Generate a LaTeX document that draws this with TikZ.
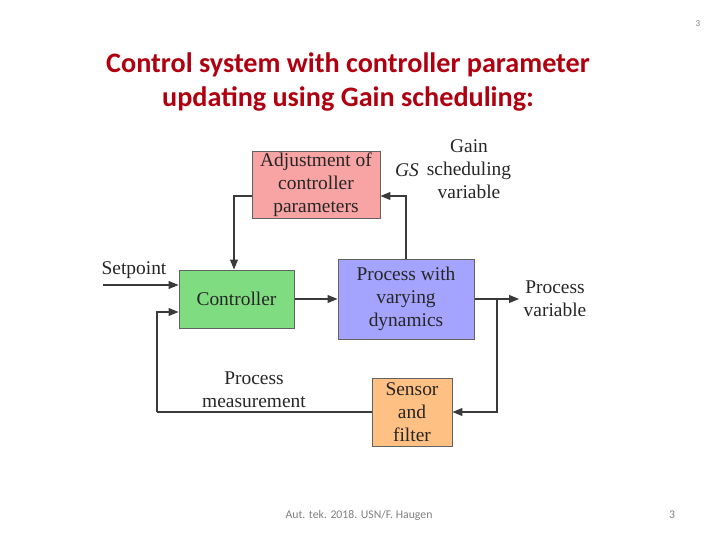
\documentclass[tikz,border=0pt]{standalone}
\usepackage{fontspec}
\setmainfont{Liberation Serif}
\newfontfamily\calibri{Carlito}
\usetikzlibrary{arrows.meta}
\definecolor{titlered}{HTML}{B00010}
\definecolor{adjfill}{HTML}{F8A4A4}
\definecolor{ctrlfill}{HTML}{80DC80}
\definecolor{procfill}{HTML}{A4A4FF}
\definecolor{sensfill}{HTML}{FFC084}
\definecolor{linegray}{HTML}{3A3A3A}
\definecolor{footgray}{HTML}{7F7F7F}
\tikzset{
  blk/.style={draw=linegray!80, line width=1pt, align=center, inner sep=0pt,
    font=\fontsize{19.5}{23}\selectfont, text=black!85},
  conn/.style={draw=linegray, line width=1.1pt, -{Triangle[length=10pt,width=8pt]}},
  wire/.style={draw=linegray, line width=1.1pt},
  lbl/.style={align=center, font=\fontsize{19.5}{23}\selectfont, text=black!85, inner sep=0pt}
}
\begin{document}
\begin{tikzpicture}[x=1bp,y=-1bp]
\useasboundingbox (0,0) rectangle (720,540);
% title
\node[font=\calibri\bfseries\fontsize{28.3}{34}\selectfont, text=titlered, align=center] (title) at (348,82)
  {Control system with controller parameter\\updating using Gain scheduling:};
\node[font=\calibri\fontsize{9}{10}\selectfont, text=footgray] (pg) at (698,24) {3};
\node[font=\calibri\fontsize{11.8}{14}\selectfont, text=footgray] (foot) at (359,515) {Aut. tek. 2018. USN/F. Haugen};
\node[font=\calibri\fontsize{11.8}{14}\selectfont, text=footgray] (pgb) at (672,515) {3};
% blocks
\node[blk, fill=adjfill, minimum width=128bp, minimum height=66bp] (adj) at (316,185)
  {Adjustment of\\controller\\parameters};
\node[blk, fill=ctrlfill, minimum width=115bp, minimum height=58bp] (ctrl) at (236.5,299) {Controller};
\node[blk, fill=procfill, minimum width=136bp, minimum height=80bp] (proc) at (406,299)
  {Process with\\varying\\dynamics};
\node[blk, fill=sensfill, minimum width=80bp, minimum height=68bp] (sens) at (412,412)
  {Sensor\\and\\filter};
% labels
\node[lbl] (sp) at (134,270) {Setpoint};
\node[lbl] (pv) at (555,299) {Process\\variable};
\node[lbl] (pm) at (254,390) {Process\\measurement};
\node[lbl] (gsv) at (469,169) {Gain\\scheduling\\variable};
\node[lbl, font=\itshape\fontsize{19.5}{23}\selectfont] (gs) at (407,170) {GS};
% coordinates
\coordinate (spin) at (103,285);
\coordinate (pvout) at (519,299);
\coordinate (br) at (497,299);
\coordinate (fbl) at (157,412);
% connectors
\draw[conn] (spin) -- (spin -| ctrl.west);
\draw[conn] (ctrl.east) -- (proc.west);
\draw[conn] (proc.east) -- (pvout);
\draw[conn] (br) |- (sens.east);
\draw[wire] (sens.west) -- (fbl);
\draw[conn] (fbl) |- ([yshift=-13bp]ctrl.west);
\draw[conn] (proc.north) |- ([yshift=-11bp]adj.east);
\draw[conn] ([yshift=-11bp]adj.west) -| (ctrl.north -| 234,0);
\end{tikzpicture}
\end{document}
